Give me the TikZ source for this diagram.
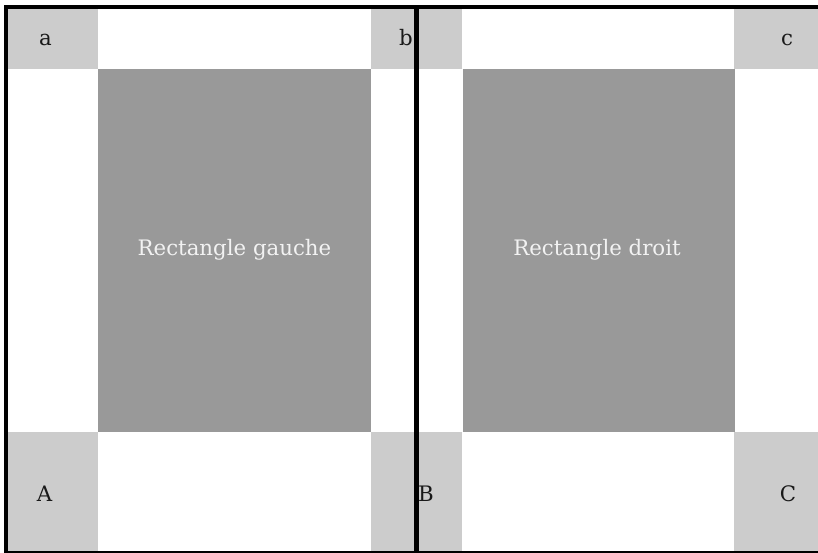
\documentclass[tikz,border=0pt]{standalone}
\usepackage{fontspec}
\setmainfont{DejaVu Serif}

\begin{document}
\begin{tikzpicture}[x=1pt, y=-1pt,
    corner/.style={fill=black!20, draw=none},
    block/.style={fill=black!40, draw=none, text=black!5,
        inner sep=0pt, font=\fontsize{21.3}{25}\selectfont},
    lab/.style={inner sep=0pt, text=black!90,
        font=\fontsize{21.3}{25}\selectfont},
    frame/.style={line width=3.2pt, line cap=rect}
]
    \useasboundingbox (0,0) rectangle (818,553);
    \clip (0,0) rectangle (818,553);
    % coins
    \fill[corner] (7,9) rectangle (98,69);
    \fill[corner] (371,9) rectangle (462,69);
    \fill[corner] (734,9) rectangle (818,69);
    \fill[corner] (7,432) rectangle (98,553);
    \fill[corner] (371,432) rectangle (462,553);
    \fill[corner] (734,432) rectangle (818,553);
    % rectangles
    \node[block, minimum width=273pt, minimum height=363pt] (gauche)
        at (234.5,250.5) {};
    \node[block, minimum width=272pt, minimum height=363pt] (droit)
        at (598.5,250.5) {};
    \node[block, anchor=base] (tg) at (234.5,255) {Rectangle gauche};
    \node[block, anchor=base] (td) at (597,255) {Rectangle droit};
    % lettres
    \node[lab, anchor=base] (a) at (45.5,46) {a};
    \node[lab, anchor=base east] (b) at (413,46) {b};
    \node[lab, anchor=base] (c) at (787,46) {c};
    \node[lab, anchor=base] (A) at (44.5,501) {A};
    \node[lab, anchor=base west] (B) at (418,501) {B};
    \node[lab, anchor=base] (C) at (788,501) {C};
    % cadre
    \draw[frame] (6,553) -- (6,7) -- (818,7);
    \draw[line width=1.2pt] (6,552) -- (818,552);
    \draw[line width=5pt] (416.5,7) -- (416.5,553);
\end{tikzpicture}
\end{document}
